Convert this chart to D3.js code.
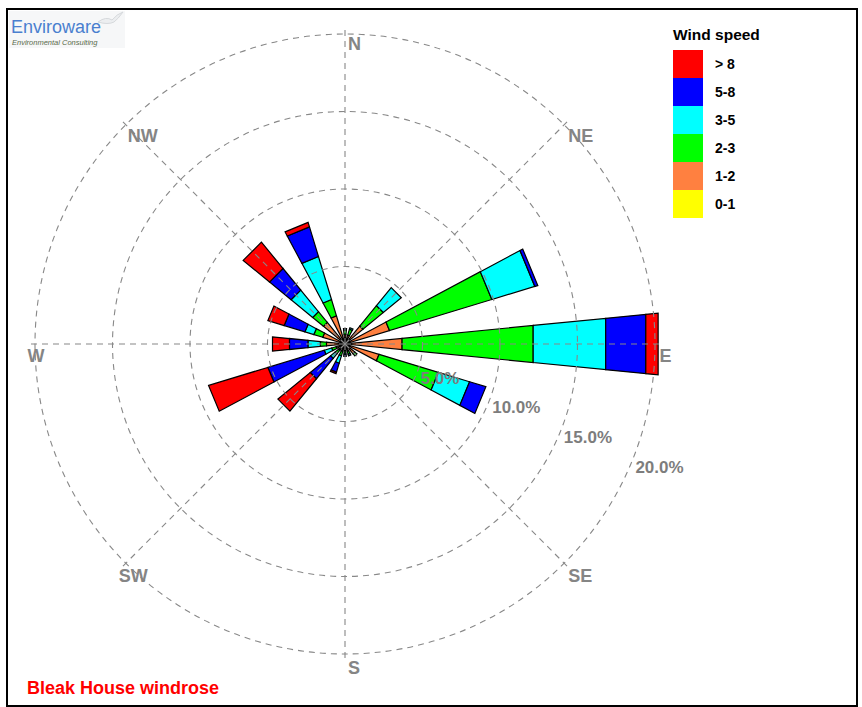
<!DOCTYPE html>
<html>
<head>
<meta charset="utf-8">
<script src="https://cdn.jsdelivr.net/npm/d3@7"></script>
<style>
  body { margin: 0; background: #fff; }
  svg { display: block; font-family: "Liberation Sans", Arial, sans-serif; }
</style>
</head>
<body>
<div id="chart"></div>
<script>
// sixteen sectors, clockwise from north
var directions = ['N','NNE','NE','ENE','E','ESE','SE','SSE','S','SSW','SW','WSW','W','WNW','NW','NNW'];
var speedBins  = ['0-1','1-2','2-3','3-5','5-8','> 8'];
var binColors  = ['#ffff00','#ff8040','#00ff00','#00ffff','#0000ff','#ff0000'];

// frequency (%) per speed class for each direction
var speed01  = [0.1,0.1,0.1,0.1,0.2,0.1,0.1,0.1,0.1,0.1,0.1,0.1,0.1,0.1,0.1,0.1];
var speed12  = [0.5,0.5,1.4,2.9,3.5,2.2,0.7,0.4,0.3,0.4,0.4,0.5,1.1,1.4,1.7,1.8];
var speed23  = [0.3,0.4,1.7,6.9,8.5,4.0,0.2,0.2,0.2,0.3,0.3,0.3,0.4,0.6,0.9,1.1];
var speed35  = [0.1,0.1,1.5,2.9,4.7,2.1,0.0,0.1,0.1,0.5,0.4,0.5,0.8,0.6,1.8,2.9];
var speed58  = [0.0,0.0,0.0,0.2,2.6,1.1,0.0,0.0,0.1,0.6,1.7,3.8,1.2,1.4,1.8,2.0];
var speedGt8 = [0.0,0.0,0.0,0.0,0.8,0.0,0.0,0.0,0.0,0.1,2.7,4.0,1.1,1.1,2.2,0.3];

var ringValues = [5, 10, 15, 20];
var ringLabels = ['5.0%', '10.0%', '15.0%', '20.0%'];
var compass    = ['N','NE','E','SE','S','SW','W','NW'];

var series = [speed01, speed12, speed23, speed35, speed58, speedGt8];
var table = directions.map(function(d, i) {
  var row = { dir: d, idx: i };
  speedBins.forEach(function(b, j) { row[b] = series[j][i]; });
  return row;
});

var W = 862, H = 707, cx = 345, cy = 344;

var svg = d3.select('#chart').append('svg')
  .attr('width', W).attr('height', H);

// frame
svg.append('rect')
  .attr('x', 7).attr('y', 9).attr('width', 850).attr('height', 697)
  .attr('fill', 'none').attr('stroke', '#000').attr('stroke-width', 2);

// logo
var logo = svg.append('g');
logo.append('rect').attr('x', 9).attr('y', 11).attr('width', 116).attr('height', 37).attr('fill', '#f6f7f8');
logo.append('path')
  .attr('d', 'M98,22 Q106,16 112,20 Q117,14 123,12 Q118,19 114,22 Q108,25 98,22 Z')
  .attr('fill', '#eceef0').attr('stroke', '#d6d9dc');
logo.append('text').attr('x', 11).attr('y', 33).text('Enviroware')
  .attr('font-size', 18).attr('fill', '#4a7fcf').attr('font-family', 'Arial, "Liberation Sans", sans-serif');
logo.append('text').attr('x', 12).attr('y', 45).text('Environmental Consulting')
  .attr('font-size', 7.5).attr('font-style', 'italic').attr('fill', '#5b6b4b');

var r = d3.scaleLinear().domain([0, 20]).range([0, 310]);
var angle = d3.scaleBand().domain(directions).range([0, 2 * Math.PI]).align(0);
var step = 2 * Math.PI / directions.length;
var half = step / 4; // bars are half the sector width

var stacked = d3.stack().keys(speedBins)(table);

var g = svg.append('g').attr('transform', 'translate(' + cx + ',' + cy + ')');

var wedge = d3.lineRadial().curve(d3.curveLinearClosed);

stacked.forEach(function(layer, j) {
  g.append('g').selectAll('path')
    .data(layer.filter(function(d) { return d[1] - d[0] > 0; }))
    .join('path')
    .attr('d', function(d) {
      var a = angle(d.data.dir);
      var r0 = r(d[0]), r1 = r(d[1]);
      return wedge([[a - half, r0], [a - half, r1], [a + half, r1], [a + half, r0]]);
    })
    .attr('fill', binColors[j])
    .attr('stroke', '#000')
    .attr('stroke-width', 1.2)
    .attr('stroke-linejoin', 'miter');
});

// grid on top of bars
var grid = g.append('g').attr('stroke', '#888').attr('fill', 'none')
  .attr('stroke-dasharray', '6,5').attr('stroke-width', 1.1);
grid.selectAll('circle').data(ringValues).join('circle').attr('r', function(d) { return r(d); });
grid.selectAll('line').data(compass).join('line')
  .attr('x1', 0).attr('y1', 0)
  .attr('x2', function(d, i) { return Math.sin(i * Math.PI / 4) * r(20.4); })
  .attr('y2', function(d, i) { return -Math.cos(i * Math.PI / 4) * r(20.4); });

// compass labels
g.append('g').selectAll('text').data(compass).join('text')
  .attr('x', function(d, i) { return Math.sin(i * Math.PI / 4) * r(20.1) + (d === 'W' || d === 'SW' ? -6 : 3); })
  .attr('y', function(d, i) { return -Math.cos(i * Math.PI / 4) * r(20.1) + 18; })
  .attr('font-size', 18).attr('font-weight', 'bold').attr('fill', '#858585')
  .text(function(d) { return d; });

// ring labels along ESE
var la = angle('ESE');
g.append('g').selectAll('text').data(ringValues).join('text')
  .attr('x', function(d) { return Math.sin(la) * r(d) + 4; })
  .attr('y', function(d) { return -Math.cos(la) * r(d) + 10; })
  .attr('font-size', 17).attr('font-weight', 'bold').attr('fill', '#7d7d7d')
  .text(function(d, i) { return ringLabels[i]; });

// legend
var legend = svg.append('g').attr('transform', 'translate(673,0)');
legend.append('text').attr('x', 0).attr('y', 40).text('Wind speed')
  .attr('font-size', 15.5).attr('font-weight', 'bold').attr('fill', '#000');
var order = speedBins.slice().reverse();
var colorOf = d3.scaleOrdinal().domain(speedBins).range(binColors);
var ly = d3.scaleBand().domain(order).range([50, 218]);
legend.selectAll('rect.k').data(order).join('rect')
  .attr('x', 0).attr('y', function(d) { return ly(d); })
  .attr('width', 30).attr('height', ly.bandwidth())
  .attr('fill', function(d) { return colorOf(d); });
legend.selectAll('text.k').data(order).join('text')
  .attr('x', 42).attr('y', function(d) { return ly(d) + ly.bandwidth() / 2 + 5; })
  .attr('font-size', 14).attr('font-weight', 'bold').attr('fill', '#000')
  .text(function(d) { return d; });

// title
svg.append('text').attr('x', 27).attr('y', 694).text('Bleak House windrose')
  .attr('font-size', 18).attr('font-weight', 'bold').attr('fill', '#ff0000');
</script>
</body>
</html>
